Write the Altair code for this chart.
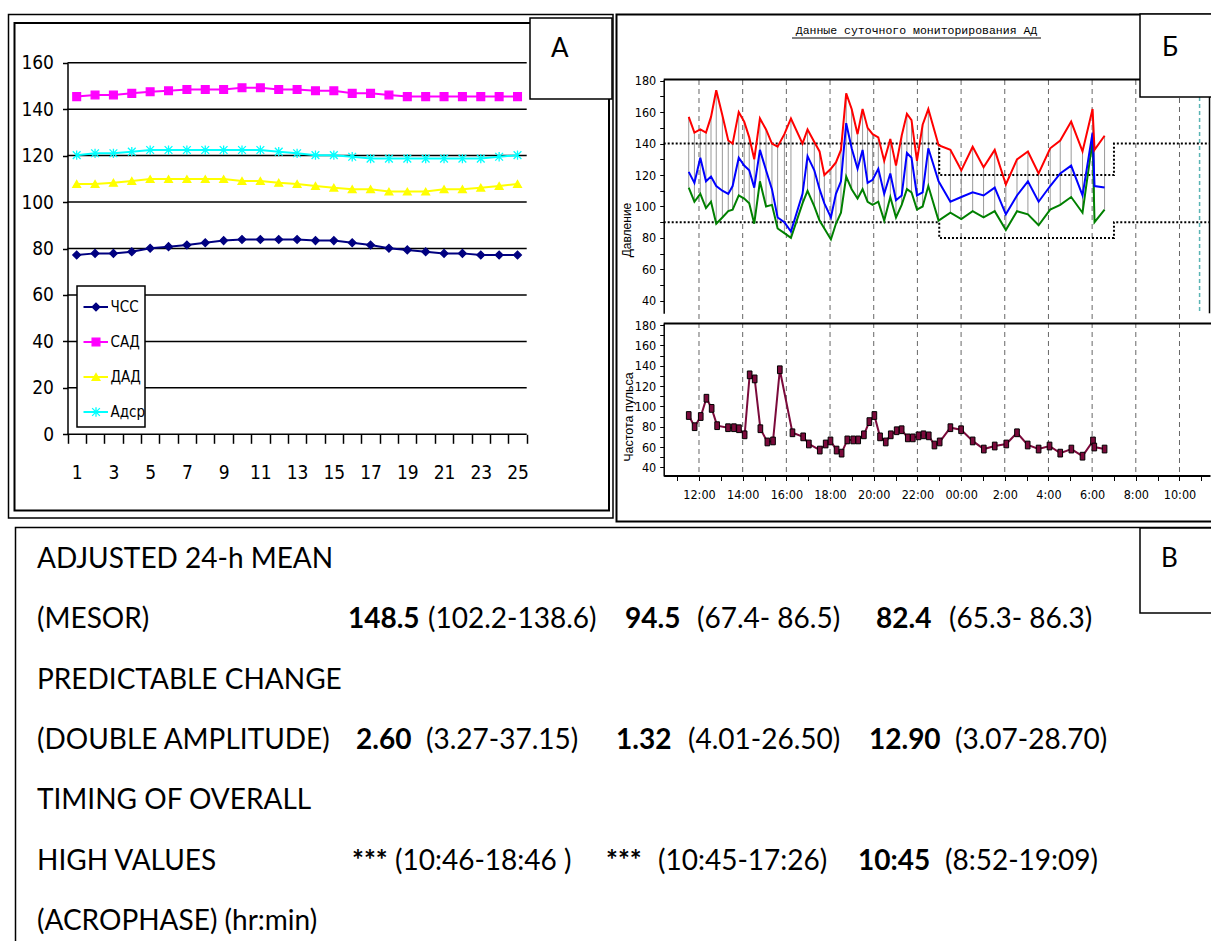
import altair as alt
import pandas as pd

W, H = 1211, 941
NARROW = "Liberation Sans Narrow, DejaVu Sans Condensed, Arial Narrow, Liberation Sans, sans-serif"
BODY = "Lato, Carlito, Calibri, Noto Sans, sans-serif"

# ================= DATA =================
# ---- Panel А: averaged profile (25 points) ----
pts_a = list(range(1, 26))
chss = [77.2, 77.9, 77.9, 78.6, 80.1, 80.8, 81.5, 82.5, 83.4, 83.9, 83.9, 83.9, 83.9,
        83.4, 83.4, 82.5, 81.5, 80.1, 79.4, 78.6, 77.9, 77.9, 77.2, 77.2, 77.2]
sad = [145.4, 146.1, 146.1, 146.8, 147.5, 147.9, 148.5, 148.5, 148.5, 149.2, 149.2, 148.5,
       148.5, 147.9, 147.9, 146.8, 146.8, 146.1, 145.4, 145.4, 145.4, 145.4, 145.4, 145.4, 145.4]
dad = [107.8, 107.8, 108.3, 109.1, 109.9, 109.9, 109.9, 109.9, 109.9, 109.1, 109.1, 108.3,
       107.8, 106.9, 106.2, 105.5, 105.5, 104.5, 104.5, 104.5, 105.5, 105.5, 106.2, 106.9, 107.8]
adsr = [120.2, 121.0, 121.0, 121.7, 122.4, 122.4, 122.4, 122.4, 122.4, 122.4, 122.4, 121.7,
        121.0, 120.2, 120.2, 119.5, 118.7, 118.7, 118.7, 118.7, 118.7, 118.7, 118.7, 119.5, 120.2]
series_a = ["ЧСС", "САД", "ДАД", "Адср"]
colors_a = ["#000080", "#FF00FF", "#FFFF00", "#00FFFF"]
shapes_a = ["diamond", "square", "triangle-up", "M-1,-1L1,1M-1,1L1,-1M0,-1.2L0,1.2"]
yticks_a = list(range(0, 161, 20))
xlabels_a = list(range(1, 26, 2))
xbounds_a = [i + 0.5 for i in range(0, 26)]

# ---- Panel Б: ambulatory BP monitoring ----
bp_t = [11.53, 11.79, 12.06, 12.32, 12.55, 12.79, 13.07, 13.34, 13.54, 13.82,
        14.07, 14.30, 14.53, 14.79, 15.07, 15.34, 15.60, 15.91, 16.21, 16.74,
        16.97, 17.28, 17.52, 17.74, 18.04, 18.27, 18.50, 18.74, 18.99, 19.26,
        19.49, 19.72, 19.95, 20.21, 20.48, 20.76, 21.02, 21.28, 21.52, 21.73,
        21.98, 22.24, 22.50, 22.97, 23.51, 24.01, 24.53, 25.03, 25.54, 26.05,
        26.56, 27.06, 27.55, 28.08, 28.54, 29.04, 29.56, 30.02, 30.11, 30.57]
bp_sys = [157, 147, 149, 147, 157, 174, 158, 142, 140, 160,
          154, 144, 130, 156, 149, 140, 138, 146, 156, 140,
          149, 141, 135, 120, 124, 128, 136, 172, 162, 146,
          162, 150, 146, 144, 129, 143, 126, 145, 159, 155,
          129, 152, 162, 139, 136, 123, 138, 125, 136, 114,
          130, 135, 121, 137, 142, 154, 135, 162, 136, 145]
bp_map = [122, 115, 131, 116, 119, 113, 110, 108, 113, 131,
          126, 123, 112, 136, 123, 111, 93, 90, 84, 108,
          132, 123, 111, 102, 93, 108, 116, 153, 137, 124,
          136, 115, 117, 124, 108, 121, 104, 107, 134, 131,
          107, 109, 137, 116, 103, 106, 109, 107, 112, 95,
          107, 116, 103, 113, 121, 126, 107, 147, 113, 112]
bp_dia = [112, 103, 108, 99, 103, 89, 93, 97, 98, 107,
          105, 102, 89, 116, 100, 101, 86, 83, 80, 102,
          110, 100, 91, 86, 79, 89, 96, 119, 111, 105,
          111, 103, 101, 103, 91, 106, 93, 101, 111, 109,
          98, 100, 113, 91, 96, 92, 97, 93, 97, 85,
          97, 95, 88, 98, 101, 106, 96, 142, 90, 98]
pulse_t = [11.53, 11.80, 12.08, 12.34, 12.58, 12.83, 13.33, 13.60, 13.83, 14.09,
           14.32, 14.55, 14.81, 15.13, 15.39, 15.70, 16.28, 16.77, 17.03, 17.53,
           17.80, 18.02, 18.30, 18.53, 18.79, 19.06, 19.29, 19.55, 19.80, 20.03,
           20.29, 20.55, 20.78, 21.05, 21.28, 21.56, 21.79, 22.05, 22.28, 22.52,
           22.78, 23.02, 23.51, 24.00, 24.53, 25.04, 25.54, 26.07, 26.56, 27.05,
           27.55, 28.05, 28.54, 29.05, 29.56, 30.04, 30.10, 30.57]
pulse_v = [91, 80, 90, 108, 98, 81, 79, 79, 78, 72,
           131, 127, 78, 65, 66, 136, 74, 70, 63, 57,
           63, 66, 57, 54, 67, 67, 67, 72, 85, 91,
           70, 65, 72, 76, 77, 69, 69, 71, 72, 71,
           62, 65, 79, 77, 66, 58, 61, 63, 74, 62,
           58, 61, 54, 58, 51, 66, 60, 58]
day_limits = [140, 90]
night_limits = [120, 80]
night_period = [23, 31]
grid_hours = list(range(12, 35, 2))
axis_hours = list(range(11, 36))
end_mark = [34.92]
bp_title = "Данные суточного мониторирования АД"

# ---- Panel В: cosinor table ----
row_labels = ["ADJUSTED 24-h MEAN", "(MESOR)", "PREDICTABLE CHANGE", "(DOUBLE AMPLITUDE)",
              "TIMING OF OVERALL", "HIGH VALUES", "(ACROPHASE) (hr:min)"]
mesor = ["148.5", "94.5", "82.4"]
mesor_ci = ["(102.2-138.6)", "(67.4- 86.5)", "(65.3- 86.3)"]
dbl_amp = ["2.60", "1.32", "12.90"]
dbl_amp_ci = ["(3.27-37.15)", "(4.01-26.50)", "(3.07-28.70)"]
acro = ["***", "***", "10:45"]
acro_ci = ["(10:46-18:46 )", "(10:45-17:26)", "(8:52-19:09)"]

# ================= LAYOUT (pixels) =================
A_X = [67.5, 526.7]
A_Y = [434.3, 62.7]
B_X = [663.7, 1210.0]
B_DOM = [10.384, 35.397]
B_Y = [313.3, 79.5]
P_Y = [476.0, 323.3]
B_AXIS_Y = 475.5
text_rows_y = [568, 930]
x_label_col = 37
x_bold = {1: [348, 625, 876], 3: [356, 616, 869], 5: [352, 606, 858]}
x_ci = {1: [428, 697, 949], 3: [426, 688, 955], 5: [395, 658, 945]}


def ax(**kw):
    base = dict(title=None, grid=False, labelFont=NARROW, labelColor="black",
                domainColor="black", tickColor="black", labelFlush=False, labelOverlap=False)
    base.update(kw)
    return alt.Axis(**base)


xA = alt.Scale(domain=[0.5, 25.5], range=A_X, nice=False, zero=False)
yA = alt.Scale(domain=[0, 160], range=A_Y, nice=False, zero=False)
colA = alt.Scale(domain=series_a, range=colors_a)
shpA = alt.Scale(domain=series_a, range=shapes_a)
xB = alt.Scale(domain=B_DOM, range=B_X, nice=False, zero=False)
yB = alt.Scale(domain=[32, 180.8], range=B_Y, nice=False, zero=False)
yP = alt.Scale(domain=[31.5, 181.7], range=P_Y, nice=False, zero=False)

layers = []

# ---- frames ----
frames = pd.DataFrame([
    dict(x=8.5, x2=613.0, y=14.5, y2=518.0, w=1.5),
    dict(x=14.5, x2=609.0, y=23.0, y2=510.5, w=2.0),
    dict(x=616.5, x2=1216.0, y=14.5, y2=521.5, w=2.0),
    dict(x=15.5, x2=1216.0, y=527.5, y2=946.0, w=1.5),
])
layers.append(alt.Chart(frames).mark_rect(fillOpacity=0, stroke="black").encode(
    x=alt.X("x:Q", scale=None), x2="x2:Q", y=alt.Y("y:Q", scale=None), y2="y2:Q",
    strokeWidth=alt.StrokeWidth("w:Q", scale=None)))

# ---- Panel А ----
dfA = pd.DataFrame({"i": pts_a * 4, "v": chss + sad + dad + adsr,
                    "s": [s for s in series_a for _ in pts_a]})
layers.append(alt.Chart(pd.DataFrame({"g": yticks_a})).mark_rule(color="black", strokeWidth=1.5).encode(
    y=alt.Y("g:Q", scale=yA, axis=ax(orient="left", offset=-A_X[0], values=yticks_a, tickSize=5,
                                     tickWidth=1.5, labelPadding=9, labelFontSize=19, domainWidth=1.5)),
    x=alt.value(A_X[0]), x2=alt.value(A_X[1])))
layers.append(alt.Chart(dfA).mark_line(strokeWidth=2).encode(
    x=alt.X("i:Q", scale=xA, axis=ax(orient="bottom", offset=A_Y[0] - H, values=xbounds_a,
                                     labels=False, tickSize=9, tickWidth=1.5, domain=False)),
    y=alt.Y("v:Q", scale=yA, axis=None),
    color=alt.Color("s:N", scale=colA, legend=None)))
layers.append(alt.Chart(dfA).mark_point(filled=True, size=60, opacity=1, strokeWidth=1.3).encode(
    x=alt.X("i:Q", scale=xA, axis=ax(orient="bottom", offset=A_Y[0] - H, values=xlabels_a,
                                     ticks=False, tickSize=0, domain=False, labelPadding=29,
                                     labelFontSize=19, format="d")),
    y=alt.Y("v:Q", scale=yA, axis=None),
    fill=alt.Fill("s:N", scale=colA, legend=None),
    stroke=alt.Stroke("s:N", scale=colA, legend=None),
    shape=alt.Shape("s:N", scale=shpA, legend=None)))

# ---- Panel Б ----
layers.append(alt.Chart(pd.DataFrame({"t": grid_hours})).mark_rule(
    color="#666666", strokeDash=[5, 4], strokeWidth=1).encode(
    x=alt.X("t:Q", scale=xB, axis=None), y=alt.value(80), y2=alt.value(B_AXIS_Y)))
layers.append(alt.Chart(pd.DataFrame({"t": end_mark})).mark_rule(
    color="#5ab4b4", strokeDash=[4, 3], strokeWidth=1.5).encode(
    x=alt.X("t:Q", scale=xB, axis=None), y=alt.value(97), y2=alt.value(B_Y[0])))
dfBP = pd.DataFrame({"t": bp_t, "sys": bp_sys, "map": bp_map, "dia": bp_dia})
layers.append(alt.Chart(dfBP).mark_rule(color="#9a9a9a", strokeWidth=1).encode(
    x=alt.X("t:Q", scale=xB, axis=None), y=alt.Y("sys:Q", scale=yB, axis=None), y2="dia:Q"))

thr_rows = []
for path, (dv, nv) in zip(["upper", "lower"], zip(day_limits, night_limits)):
    pts = [(B_DOM[0], dv), (night_period[0], dv), (night_period[0], nv),
           (night_period[1], nv), (night_period[1], dv), (B_DOM[1], dv)]
    for k, (t, v) in enumerate(pts):
        thr_rows.append(dict(path=path, k=k, t=t, v=v))
layers.append(alt.Chart(pd.DataFrame(thr_rows)).mark_line(
    color="black", strokeDash=[2, 2], strokeWidth=2).encode(
    x=alt.X("t:Q", scale=xB, axis=None),
    y=alt.Y("v:Q", scale=yB, axis=ax(orient="left", offset=-B_X[0], values=list(range(40, 181, 10)),
                                     labelExpr="datum.value % 20 == 0 ? datum.label : ''",
                                     tickSize=4, labelPadding=4, labelFontSize=12.5, domainWidth=1.5)),
    detail="path:N", order="k:Q"))

dfBPl = pd.DataFrame({"t": bp_t * 3, "v": bp_dia + bp_map + bp_sys,
                      "kind": ["dia"] * len(bp_t) + ["map"] * len(bp_t) + ["sys"] * len(bp_t)})
layers.append(alt.Chart(dfBPl).mark_line(strokeWidth=2).encode(
    x=alt.X("t:Q", scale=xB, axis=None), y=alt.Y("v:Q", scale=yB, axis=None),
    color=alt.Color("kind:N", scale=alt.Scale(domain=["sys", "map", "dia"],
                                              range=["#FF0000", "#0000FF", "#008000"]), legend=None)))

dfP = pd.DataFrame({"t": pulse_t, "v": pulse_v})
layers.append(alt.Chart(dfP).mark_line(color="#7b0a3b", strokeWidth=2).encode(
    x=alt.X("t:Q", scale=xB, axis=ax(orient="bottom", offset=B_AXIS_Y - H, values=axis_hours,
                                     labelExpr="datum.value % 2 == 0 ? (datum.value == 24 ? '00:00' : (datum.value % 24) + ':00') : ''",
                                     tickSize=5, labelPadding=8, labelFontSize=12.5, domainWidth=2)),
    y=alt.Y("v:Q", scale=yP, axis=ax(orient="left", offset=-B_X[0], values=list(range(40, 181, 10)),
                                     labelExpr="datum.value % 20 == 0 ? datum.label : ''",
                                     tickSize=4, labelPadding=4, labelFontSize=12.5, domainWidth=1.5))))
layers.append(alt.Chart(dfP).mark_point(shape="M-0.6,-1L0.6,-1L0.6,1L-0.6,1Z", filled=True, size=60,
                                        fill="#7b0a3b", stroke="black", strokeWidth=1, opacity=1).encode(
    x=alt.X("t:Q", scale=xB, axis=None), y=alt.Y("v:Q", scale=yP, axis=None)))

rules = pd.DataFrame([
    dict(x=663.7, x2=1210.0, y=79.5, y2=79.5, w=2.0),
    dict(x=1209.5, x2=1209.5, y=79.5, y2=313.3, w=1.5),
    dict(x=663.7, x2=1211.0, y=323.5, y2=323.5, w=2.0),
    dict(x=792.0, x2=1041.0, y=38.0, y2=38.0, w=1.0),
])
layers.append(alt.Chart(rules).mark_rule(color="black").encode(
    x=alt.X("x:Q", scale=None), x2="x2:Q", y=alt.Y("y:Q", scale=None), y2="y2:Q",
    strokeWidth=alt.StrokeWidth("w:Q", scale=None)))

one = pd.DataFrame({"t": [bp_title]})
layers.append(alt.Chart(one).mark_text(font="Liberation Mono", fontSize=11.5, align="center",
                                       baseline="alphabetic", color="black").encode(
    x=alt.value(916.5), y=alt.value(34), text="t:N"))
layers.append(alt.Chart(pd.DataFrame({"t": ["Давление"]})).mark_text(
    font="Liberation Sans", fontSize=12, angle=270, align="center", baseline="middle").encode(
    x=alt.value(627), y=alt.value(230), text="t:N"))
layers.append(alt.Chart(pd.DataFrame({"t": ["Частота пульса"]})).mark_text(
    font="Liberation Sans", fontSize=12.5, angle=270, align="center", baseline="middle").encode(
    x=alt.value(628.5), y=alt.value(417), text="t:N"))

# ---- white boxes (panel letters, legend) ----
boxes = pd.DataFrame([
    dict(x=530, x2=612, y=18, y2=99),
    dict(x=1140, x2=1216, y=14, y2=97),
    dict(x=1140, x2=1216, y=528, y2=613),
    dict(x=77, x2=145, y=286, y2=427),
])
layers.append(alt.Chart(boxes).mark_rect(fill="white", stroke="black", strokeWidth=1.5).encode(
    x=alt.X("x:Q", scale=None), x2="x2:Q", y=alt.Y("y:Q", scale=None), y2="y2:Q"))

# ---- legend of panel А ----
yL = alt.Scale(type="point", domain=series_a, range=[307, 412], padding=0)
dfL = pd.DataFrame({"s": series_a})
layers.append(alt.Chart(dfL).mark_rule(strokeWidth=2).encode(
    x=alt.value(83.5), x2=alt.value(108), y=alt.Y("s:N", scale=yL, axis=None),
    color=alt.Color("s:N", scale=colA, legend=None)))
layers.append(alt.Chart(dfL).mark_point(filled=True, size=60, opacity=1, strokeWidth=1.3).encode(
    x=alt.value(96), y=alt.Y("s:N", scale=yL, axis=None),
    fill=alt.Fill("s:N", scale=colA, legend=None),
    stroke=alt.Stroke("s:N", scale=colA, legend=None),
    shape=alt.Shape("s:N", scale=shpA, legend=None)))
layers.append(alt.Chart(dfL).mark_text(align="left", baseline="middle", font=NARROW,
                                       fontSize=15, color="black").encode(
    x=alt.value(110.5), y=alt.Y("s:N", scale=yL, axis=None), text="s:N"))

# ---- panel letters ----
letters = pd.DataFrame([dict(x=551, y=57, t="А"), dict(x=1162, y=56, t="Б"), dict(x=1161, y=567, t="В")])
layers.append(alt.Chart(letters).mark_text(align="left", baseline="alphabetic", font=BODY,
                                           fontSize=26, color="black").encode(
    x=alt.X("x:Q", scale=None), y=alt.Y("y:Q", scale=None), text="t:N"))

# ---- Panel В text ----
yT = alt.Scale(type="point", domain=list(range(7)), range=text_rows_y, padding=0)
reg_rows, bold_rows = [], []
for r, lab in enumerate(row_labels):
    reg_rows.append(dict(row=r, x=x_label_col, t=lab))
for r, vals, cis in [(1, mesor, mesor_ci), (3, dbl_amp, dbl_amp_ci), (5, acro, acro_ci)]:
    for j in range(3):
        bold_rows.append(dict(row=r, x=x_bold[r][j], t=vals[j]))
        reg_rows.append(dict(row=r, x=x_ci[r][j], t=cis[j]))
for rows_, weight in [(reg_rows, "normal"), (bold_rows, "bold")]:
    layers.append(alt.Chart(pd.DataFrame(rows_)).mark_text(
        align="left", baseline="alphabetic", font=BODY, fontSize=28, fontWeight=weight,
        color="black").encode(
        x=alt.X("x:Q", scale=None), y=alt.Y("row:O", scale=yT, axis=None), text="t:N"))

chart = alt.layer(*layers).resolve_scale(
    x="independent", y="independent", color="independent", fill="independent",
    stroke="independent", shape="independent"
).properties(
    width=W, height=H, padding=0, background="white",
    autosize=alt.AutoSizeParams(type="none")
).configure_view(stroke=None)

chart.save("out.html", embed_options={"renderer": "svg", "actions": False})
